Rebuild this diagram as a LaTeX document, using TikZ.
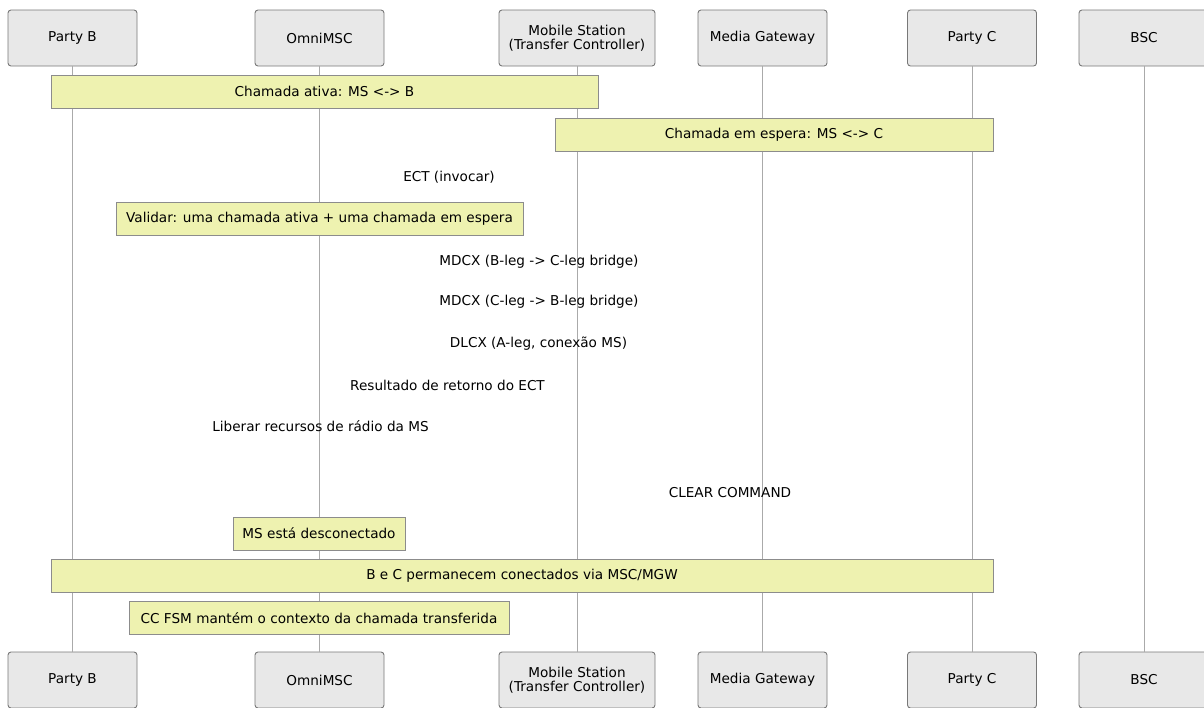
\documentclass[tikz,border=0pt]{standalone}
\usepackage{fontspec}
\setmainfont{DejaVu Sans}
\definecolor{actfill}{RGB}{232,232,232}
\definecolor{actline}{RGB}{120,120,120}
\definecolor{notefill}{RGB}{238,242,176}
\definecolor{noteline}{RGB}{140,140,140}
\definecolor{lifeline}{RGB}{170,170,170}
\newcommand{\fsz}{\fontsize{13.6}{14.5}\selectfont}
\begin{document}
\begin{tikzpicture}[x=1pt,y=-1pt,
  actor/.style={draw=actline, fill=actfill, rounded corners=3pt, line width=0.9pt,
    minimum height=56pt, align=center, inner sep=0pt, font=\fsz},
  note/.style={draw=noteline, fill=notefill, line width=0.9pt,
    minimum height=33pt, inner sep=0pt, font=\fsz},
  msg/.style={inner sep=0pt, font=\fsz},
  life/.style={draw=lifeline, line width=1pt}]
\useasboundingbox (0,0) rectangle (1204,707);
% top actors
\node[actor, minimum width=129pt] (pbT) at (72.5,38) {Party B};
\node[actor, minimum width=129pt] (omT) at (319.5,38) {OmniMSC};
\node[actor, minimum width=156pt] (msT) at (577,38) {Mobile Station\\(Transfer Controller)};
\node[actor, minimum width=129pt] (mgT) at (762.5,38) {Media Gateway};
\node[actor, minimum width=129pt] (pcT) at (972,38) {Party C};
\node[actor, minimum width=130pt] (bsT) at (1144,38) {BSC};
% bottom actors
\node[actor, minimum width=129pt] (pbB) at (72.5,680) {Party B};
\node[actor, minimum width=129pt] (omB) at (319.5,680) {OmniMSC};
\node[actor, minimum width=156pt] (msB) at (577,680) {Mobile Station\\(Transfer Controller)};
\node[actor, minimum width=129pt] (mgB) at (762.5,680) {Media Gateway};
\node[actor, minimum width=129pt] (pcB) at (972,680) {Party C};
\node[actor, minimum width=130pt] (bsB) at (1144,680) {BSC};
% lifelines
\foreach \a in {pb,om,ms,mg,pc,bs}{
  \draw[life] (\a T.south) -- (\a B.north);
}
% notes
\node[note, minimum width=547pt] (n1) at (324.5,91.5) {Chamada ativa: MS <-> B};
\node[note, minimum width=438pt] (n2) at (774,134.5) {Chamada em espera: MS <-> C};
\node[note, minimum width=407pt] (n3) at (319.5,218.5) {Validar: uma chamada ativa + uma chamada em espera};
\node[note, minimum width=172pt] (n4) at (319,533.5) {MS está desconectado};
\node[note, minimum width=942pt] (n5) at (522,575.5) {B e C permanecem conectados via MSC/MGW};
\node[note, minimum width=380pt] (n6) at (319,618) {CC FSM mantém o contexto da chamada transferida};
% messages
\node[msg] (m1) at (449,177) {ECT (invocar)};
\node[msg] (m2) at (539,261.5) {MDCX (B-leg -> C-leg bridge)};
\node[msg] (m3) at (539,302) {MDCX (C-leg -> B-leg bridge)};
\node[msg] (m4) at (538.5,344) {DLCX (A-leg, conexão MS)};
\node[msg] (m5) at (447.5,385) {Resultado de retorno do ECT};
\node[msg] (m6) at (320.5,426) {Liberar recursos de rádio da MS};
\node[msg] (m7) at (730,493) {CLEAR COMMAND};
\end{tikzpicture}
\end{document}
